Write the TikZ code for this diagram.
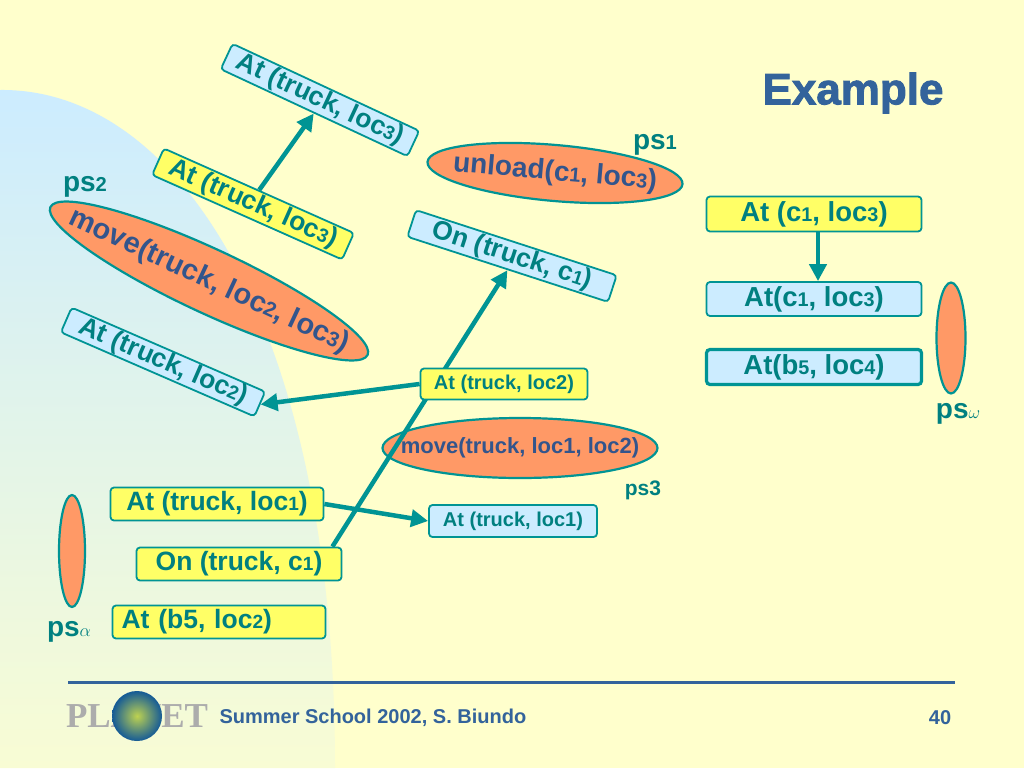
\documentclass[tikz,border=0pt]{standalone}
\usepackage{graphicx}
\usepackage{fontspec}
\setmainfont{Liberation Sans}
\newfontfamily\logofont{Liberation Serif}
\newfontfamily\titlefont[UprightFont={* Bold}, FakeBold=2]{Liberation Sans}
\usetikzlibrary{arrows.meta,shapes.geometric}

\definecolor{bgc}{RGB}{255,255,204}
\definecolor{skytop}{RGB}{204,236,255}
\definecolor{skymid}{RGB}{216,240,240}
\definecolor{skybot}{RGB}{248,252,212}
\definecolor{tealc}{RGB}{0,148,148}
\definecolor{tealt}{RGB}{0,128,128}
\definecolor{yellowc}{RGB}{255,255,102}
\definecolor{bluec}{RGB}{204,236,255}
\definecolor{orangec}{RGB}{255,153,102}
\definecolor{actc}{RGB}{51,85,140}
\definecolor{navyc}{RGB}{51,99,155}

\newcommand{\ix}[1]{\scalebox{0.72}{#1}}

\tikzset{
  fact/.style={draw=tealc, line width=1.8pt, rounded corners=3.5pt, text=tealt,
    inner sep=0pt, font=\bfseries\fontsize{26.5}{26.5}\selectfont},
  yfact/.style={fact, fill=yellowc},
  bfact/.style={fact, fill=bluec},
  act/.style={ellipse, draw=tealc, line width=2.2pt, fill=orangec, text=actc,
    inner sep=0pt, font=\bfseries\fontsize{28}{28}\selectfont},
  pslab/.style={text=tealt, inner sep=0pt, font=\bfseries\fontsize{28}{28}\selectfont},
  link/.style={tealc, line width=4.5pt, -{Triangle[length=17pt,width=17pt]}},
}

\begin{document}
\begin{tikzpicture}[x=1pt,y=-1pt]

\useasboundingbox (0,0) rectangle (1024,768);
\fill[bgc] (0,0) rectangle (1024,768);
\shade[top color=skytop, middle color=skymid, bottom color=skybot]
  (0,90) .. controls (180,88) and (335,330) .. (335,768) -- (0,768) -- cycle;

% title and footer
\node[text=navyc, font=\titlefont\fontsize{44}{44}\selectfont] (ttl) at (853,93) {Example};
\draw[navyc, line width=3pt] (68,682) -- (955,682);
\node[text=gray!65, font=\logofont\bfseries\fontsize{35}{35}\selectfont] (logo) at (137,716) {PLANET};
\node[circle, minimum size=50pt, inner sep=0pt, inner color={rgb,255:red,190;green,210;blue,80},
  outer color={rgb,255:red,20;green,90;blue,150}] (globe) at (137,716) {};
\node[anchor=west, text=navyc, font=\bfseries\fontsize{20}{20}\selectfont] (foot) at (216,718) {Summer School 2002, S. Biundo};
\node[text=navyc, font=\bfseries\fontsize{20}{20}\selectfont] (page) at (940,718) {40};

% ps2
\node[bfact, rotate=-25, minimum width=206pt, minimum height=28pt] (t1) at (320,100) {At (truck, loc\ix{3})};
\node[yfact, rotate=-24, minimum width=208pt, minimum height=29pt] (t2) at (253,204) {At (truck, loc\ix{3})};
\node[act, rotate=-25, minimum width=350pt, minimum height=64pt, font=\bfseries\fontsize{29}{29}\selectfont] (m1) at (209,281)
  {\makebox[0pt]{move(truck, loc\ix{2}, loc\ix{3})}};
\node[bfact, rotate=-23.5, minimum width=211pt, minimum height=27pt] (t3) at (163,362) {At (truck, loc\ix{2})};
\node[pslab] (l2) at (85,187) {ps\ix{2}};

% ps1
\node[act, rotate=-5, minimum width=256pt, minimum height=56pt] (u1) at (555,173) {\makebox[0pt]{unload(c\ix{1}, loc\ix{3})}};
\node[bfact, rotate=-18, minimum width=211pt, minimum height=28pt] (o1) at (512,256) {On (truck, c\ix{1})};
\node[pslab] (l1) at (655,145) {ps\ix{1}};

% ps3
\node[act, minimum width=275pt, minimum height=60pt, font=\bfseries\fontsize{22}{22}\selectfont] (m2) at (520,448)
  {\makebox[0pt]{move(truck, loc1, loc2)}};
\node[bfact, minimum width=168pt, minimum height=32pt, font=\bfseries\fontsize{20}{20}\selectfont] (t5) at (513,521) {At (truck, loc1)};
\node[pslab, font=\bfseries\fontsize{21}{21}\selectfont] (l3) at (643,490) {ps3};

% ps alpha
\node[yfact, minimum width=213pt, minimum height=33pt] (s1) at (217,504) {At (truck, loc\ix{1})};
\node[yfact, minimum width=205pt, minimum height=33pt] (s2) at (239,564) {On (truck, c\ix{1})};
\node[yfact, inner xsep=9pt, text width=195pt, align=left, minimum height=33pt] (s3) at (219,622) {At (b5, loc\ix{2})};
\node[act, minimum width=26pt, minimum height=112pt] (sa) at (72,551) {};
\node[pslab] (la) at (69,632) {ps\ix{$\alpha$}};

% ps omega
\node[yfact, minimum width=215pt, minimum height=35pt, font=\bfseries\fontsize{27.5}{27.5}\selectfont] (g1) at (814,214) {At (c\ix{1}, loc\ix{3})};
\node[bfact, minimum width=215pt, minimum height=34pt, font=\bfseries\fontsize{27.5}{27.5}\selectfont] (g2) at (814,299) {At(c\ix{1}, loc\ix{3})};
\node[bfact, line width=3.2pt, minimum width=215pt, minimum height=35pt, font=\bfseries\fontsize{27.5}{27.5}\selectfont] (g3) at (814,367) {At(b\ix{5}, loc\ix{4})};
\node[act, minimum width=29pt, minimum height=111pt] (sw) at (951,338) {};
\node[pslab] (lw) at (958,414) {ps\ix{$\omega$}};

\path[link] ([xshift=-10pt]s2.north east) edge (o1.south);

\node[yfact, minimum width=167pt, minimum height=31pt, font=\bfseries\fontsize{20}{20}\selectfont] (t4) at (504,384) {At (truck, loc2)};

\path[link] (t2.north) edge (t1.south)
  (t4.west) edge (t3.east)
  (s1.east) edge (t5.west)
  ([xshift=4pt]g1.south) edge ([xshift=4pt]g2.north);

\end{tikzpicture}
\end{document}
